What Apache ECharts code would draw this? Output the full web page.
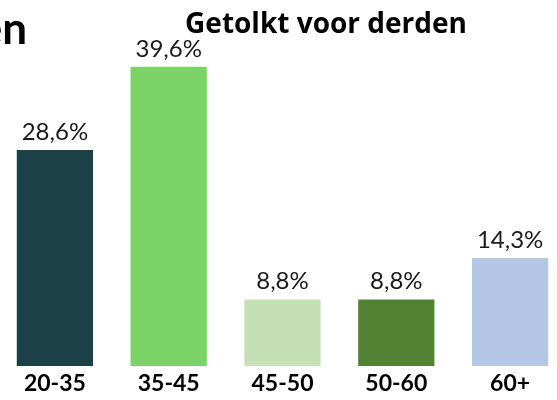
<!DOCTYPE html>
<html>
<head>
<meta charset="utf-8">
<script src="https://cdn.jsdelivr.net/npm/echarts@6/dist/echarts.min.js"></script>
<style>
  html, body { margin: 0; padding: 0; background: #fff; }
  #chart { width: 557px; height: 400px; }
</style>
</head>
<body>
<div id="chart"></div>
<script>
const categories = ['20-35', '35-45', '45-50', '50-60', '60+'];
const values = [28.6, 39.6, 8.8, 8.8, 14.3];
const barColors = ['#1c4047', '#7bd365', '#c5e0b4', '#548235', '#b4c7e7'];

let myChart = echarts.init(document.getElementById('chart'));
let option = {
  backgroundColor: '#fff',
  textStyle: { fontFamily: 'Lato' },
  title: {
    text: 'Getolkt voor derden',
    left: 321,
    top: 6,
    textAlign: 'center',
    textStyle: { fontFamily: 'Open Sans', fontWeight: 'bold', fontSize: 28, color: '#000' }
  },
  graphic: [{
    type: 'text',
    x: 27,
    y: 30,
    style: {
      text: 'en', fontFamily: 'Lato', fontWeight: 'bold', fontSize: 44, fill: '#000',
      align: 'right', verticalAlign: 'middle'
    }
  }],
  grid: {
    left: -2, width: 569, top: 26, bottom: 34,
    containLabel: false, outerBoundsMode: 'none'
  },
  xAxis: {
    type: 'category',
    data: categories,
    axisLine: { show: false },
    axisTick: { show: false },
    axisLabel: { color: '#000', fontWeight: 'bold', fontSize: 23, margin: 6, fontFamily: 'Lato' }
  },
  yAxis: {
    type: 'value',
    min: 0,
    max: 45,
    show: false
  },
  series: [{
    type: 'bar',
    barWidth: '67%',
    data: values.map((v, i) => ({ value: v, itemStyle: { color: barColors[i] } })),
    label: {
      show: true,
      position: 'top',
      distance: 6,
      color: '#1a1a1a',
      fontSize: 24,
      fontFamily: 'Lato',
      formatter: p => p.value.toFixed(1).replace('.', ',') + '%'
    }
  }]
};
myChart.setOption(option);
</script>
</body>
</html>
